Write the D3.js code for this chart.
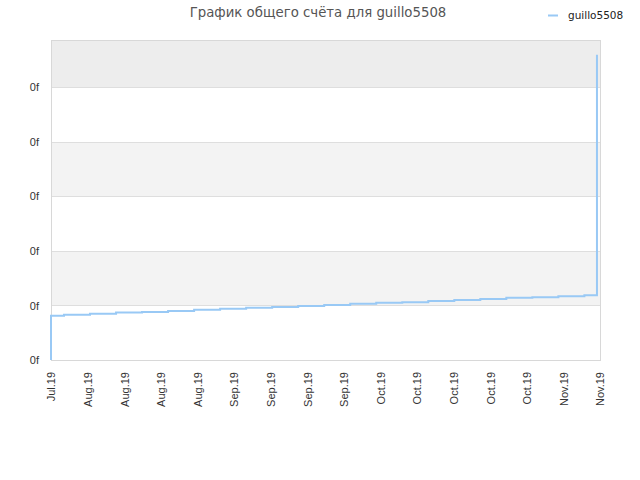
<!DOCTYPE html>
<html>
<head>
<meta charset="utf-8">
<script src="https://cdn.jsdelivr.net/npm/d3@7"></script>
<style>
  body { margin: 0; background: #fff; font-family: "DejaVu Sans", sans-serif; }
  .axis text { fill: #333; font-size: 11px; }
  .axis path, .axis line { display: none; }
</style>
</head>
<body>
<div id="chart"></div>
<script>

// chart data
const title = "График общего счёта для guillo5508";
const seriesName = "guillo5508";
const dates = [
  "2019-07-31T00:00", "2019-07-31T00:00", "2019-08-02T12:00", "2019-08-07T12:00",
  "2019-08-12T12:00", "2019-08-17T12:00", "2019-08-22T12:00", "2019-08-27T12:00",
  "2019-09-01T12:00", "2019-09-06T12:00", "2019-09-11T12:00", "2019-09-16T12:00",
  "2019-09-21T12:00", "2019-09-26T12:00", "2019-10-01T12:00", "2019-10-06T12:00",
  "2019-10-11T12:00", "2019-10-16T12:00", "2019-10-21T12:00", "2019-10-26T12:00",
  "2019-10-31T12:00", "2019-11-05T12:00", "2019-11-10T12:00", "2019-11-12T22:00"
];
const scores = [
  0, 81, 83, 85, 87, 88, 90, 92, 94, 96, 97, 99, 101, 103, 105, 106,
  108, 110, 112, 114, 115, 117, 119, 560
];
const yTicks = [0, 100, 200, 300, 400, 500];
const yTickLabel = "0f";
const xStart = "2019-07-31T00:00";
const xEnd = "2019-11-13T12:00";
const xTickCount = 16;

let margin = {top: 40, right: 40, bottom: 120, left: 51};
let width = 640 - margin.left - margin.right;
let height = 480 - margin.top - margin.bottom;

let parse = d3.timeParse("%Y-%m-%dT%H:%M");
let data = dates.map((d, i) => ({date: parse(d), value: scores[i]}));

let svg = d3.select("#chart").append("svg")
    .attr("width", 640)
    .attr("height", 480);

let g = svg.append("g")
    .attr("transform", `translate(${margin.left},${margin.top})`);

let x = d3.scaleTime()
    .domain([parse(xStart), parse(xEnd)])
    .range([0, width]);

let y = d3.scaleLinear()
    .domain([0, 587])
    .range([height, 0]);

// background bands between grid lines
let bandEdges = yTicks.concat([y.domain()[1]]);
let bandColors = ["#fff", "#f3f3f3", "#fff", "#f3f3f3", "#fff", "#ededed"];
g.selectAll(".band")
    .data(d3.pairs(bandEdges))
    .enter().append("rect")
    .attr("class", "band")
    .attr("x", 0)
    .attr("width", width)
    .attr("y", d => y(d[1]))
    .attr("height", d => y(d[0]) - y(d[1]))
    .attr("fill", (d, i) => bandColors[i]);

// grid lines
g.selectAll(".grid")
    .data(yTicks)
    .enter().append("line")
    .attr("class", "grid")
    .attr("x1", 0)
    .attr("x2", width)
    .attr("y1", d => Math.round(y(d)) + 0.5)
    .attr("y2", d => Math.round(y(d)) + 0.5)
    .attr("stroke", "#dedede");

// border
g.append("rect")
    .attr("x", 0.5)
    .attr("y", 0.5)
    .attr("width", width)
    .attr("height", height)
    .attr("fill", "none")
    .attr("stroke", "#d8d8d8");

// score line
let line = d3.line()
    .x(d => x(d.date))
    .y(d => y(d.value))
    .curve(d3.curveStepAfter);

g.append("path")
    .datum(data)
    .attr("d", line)
    .attr("fill", "none")
    .attr("stroke", "#99c9f5")
    .attr("stroke-width", 2);

// axes
let yAxis = d3.axisLeft(y)
    .tickValues(yTicks)
    .tickSize(0)
    .tickPadding(12)
    .tickFormat(() => yTickLabel);

g.append("g")
    .attr("class", "axis")
    .call(yAxis);

let t0 = parse(xStart).getTime(), t1 = parse(xEnd).getTime();
let xTickValues = d3.range(xTickCount).map(i => new Date(t0 + (t1 - t0) * i / (xTickCount - 1)));

let xAxis = d3.axisBottom(x)
    .tickValues(xTickValues)
    .tickSize(0)
    .tickFormat(d3.timeFormat("%b.%y"));

g.append("g")
    .attr("class", "axis")
    .attr("transform", `translate(0,${height})`)
    .call(xAxis)
    .selectAll("text")
    .attr("transform", "rotate(-90)")
    .attr("x", -12)
    .attr("y", 0)
    .attr("dy", "0.35em")
    .style("text-anchor", "end");

// title
svg.append("text")
    .attr("x", 318)
    .attr("y", 17)
    .attr("text-anchor", "middle")
    .attr("fill", "#555")
    .style("font-size", "13.3px")
    .text(title);

// legend
svg.append("line")
    .attr("x1", 548)
    .attr("x2", 558)
    .attr("y1", 15.5)
    .attr("y2", 15.5)
    .attr("stroke", "#99c9f5")
    .attr("stroke-width", 2);

svg.append("text")
    .attr("x", 568)
    .attr("y", 19)
    .attr("fill", "#222")
    .style("font-size", "10.5px")
    .text(seriesName);

</script>
</body>
</html>
